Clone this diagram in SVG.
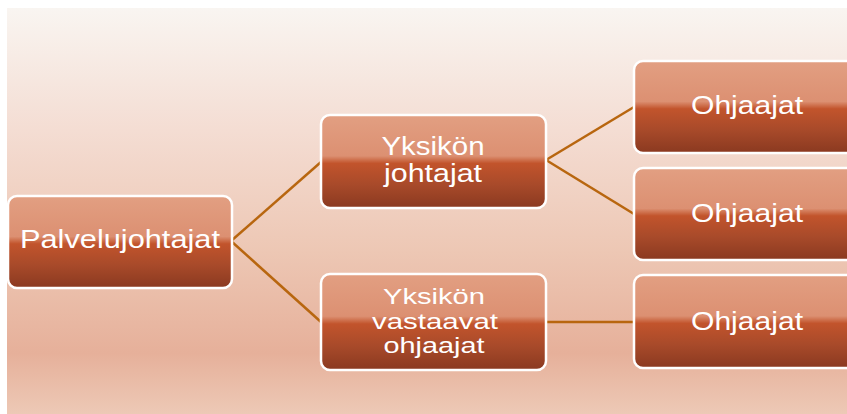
<svg xmlns="http://www.w3.org/2000/svg" width="847" height="414" viewBox="0 0 847 414">
<defs>
<linearGradient id="bg" x1="0" y1="0" x2="0" y2="1">
<stop offset="0" stop-color="#f9f5f1"/>
<stop offset="0.3" stop-color="#f4ddd3"/>
<stop offset="0.6" stop-color="#edc7b4"/>
<stop offset="0.85" stop-color="#e6b09a"/>
<stop offset="1" stop-color="#edc9b6"/>
</linearGradient>
<linearGradient id="box" x1="0" y1="0" x2="0" y2="1">
<stop offset="0" stop-color="#e29f82"/>
<stop offset="0.44" stop-color="#dc9072"/>
<stop offset="0.52" stop-color="#c2542c"/>
<stop offset="0.75" stop-color="#a84a2a"/>
<stop offset="1" stop-color="#8a3920"/>
</linearGradient>
</defs>
<style>
.n rect{fill:url(#box);stroke:#ffffff;stroke-width:2.5}
.n text{font-family:"Liberation Sans",Arial,sans-serif;font-size:25px;fill:#ffffff;text-anchor:middle}
.n text.s{font-size:22px}
.c line{stroke:#b8660f;stroke-width:2.5}
</style>
<rect x="7" y="8" width="840" height="406" fill="url(#bg)"/>
<g id="connectors" class="c">
<line x1="231" y1="241" x2="321" y2="162"/>
<line x1="231" y1="241" x2="321" y2="322"/>
<line x1="546" y1="160" x2="634" y2="107"/>
<line x1="546" y1="160" x2="634" y2="214"/>
<line x1="546" y1="322" x2="634" y2="322"/>
</g>
<g id="palvelujohtajat" class="n">
<rect x="8" y="196" width="224" height="92" rx="9"/>
<text x="120" y="248" textLength="200" lengthAdjust="spacingAndGlyphs">Palvelujohtajat</text>
</g>
<g id="yksikon-johtajat" class="n">
<rect x="321" y="115" width="225" height="93" rx="9"/>
<text x="433" y="155" textLength="103" lengthAdjust="spacingAndGlyphs">Yksikön</text>
<text x="433" y="182" textLength="98" lengthAdjust="spacingAndGlyphs">johtajat</text>
</g>
<g id="yksikon-vastaavat" class="n">
<rect x="321" y="274" width="225" height="96" rx="9"/>
<text class="s" x="434" y="304" textLength="102" lengthAdjust="spacingAndGlyphs">Yksikön</text>
<text class="s" x="435" y="329" textLength="126" lengthAdjust="spacingAndGlyphs">vastaavat</text>
<text class="s" x="434" y="353" textLength="101" lengthAdjust="spacingAndGlyphs">ohjaajat</text>
</g>
<g id="ohjaajat1" class="n">
<rect x="634" y="61" width="230" height="92" rx="9"/>
<text x="747" y="114" textLength="112" lengthAdjust="spacingAndGlyphs">Ohjaajat</text>
</g>
<g id="ohjaajat2" class="n">
<rect x="634" y="168" width="230" height="92" rx="9"/>
<text x="747" y="222" textLength="112" lengthAdjust="spacingAndGlyphs">Ohjaajat</text>
</g>
<g id="ohjaajat3" class="n">
<rect x="634" y="275" width="230" height="93" rx="9"/>
<text x="747" y="330" textLength="112" lengthAdjust="spacingAndGlyphs">Ohjaajat</text>
</g>
</svg>
